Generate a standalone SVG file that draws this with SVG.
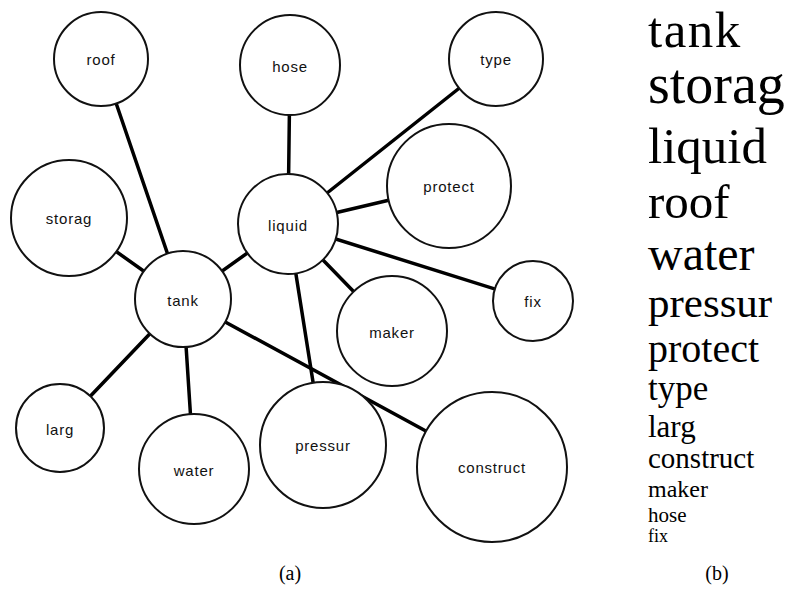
<svg xmlns="http://www.w3.org/2000/svg" width="793" height="590" viewBox="0 0 793 590">
<style>
.e{stroke:#000;stroke-width:3.5;stroke-linecap:round}
.n circle{fill:#fff;stroke:#111;stroke-width:2}
.n text{font-family:"Liberation Sans",Arial,sans-serif;font-size:15px;letter-spacing:0.8px;fill:#111;text-anchor:middle;dominant-baseline:central}
.w{font-family:"Liberation Serif","Times New Roman",serif;fill:#000}
.cap{font-family:"Liberation Serif","Times New Roman",serif;font-size:20px;fill:#000;text-anchor:middle}
</style>
<rect width="793" height="590" fill="#fff"/>
<g id="connectors">
<line class="e" x1="101" y1="59" x2="183" y2="299"/>
<line class="e" x1="69" y1="218" x2="183" y2="299"/>
<line class="e" x1="288" y1="224" x2="183" y2="299"/>
<line class="e" x1="60" y1="428" x2="183" y2="299"/>
<line class="e" x1="194" y1="469" x2="183" y2="299"/>
<line class="e" x1="183" y1="299" x2="492" y2="467"/>
<line class="e" x1="290" y1="65" x2="288" y2="224"/>
<line class="e" x1="288" y1="224" x2="496" y2="59"/>
<line class="e" x1="288" y1="224" x2="449" y2="186"/>
<line class="e" x1="288" y1="224" x2="533" y2="301"/>
<line class="e" x1="288" y1="224" x2="392" y2="331"/>
<line class="e" x1="288" y1="224" x2="323" y2="445"/>
</g>
<g id="roof" class="n"><circle cx="101" cy="59" r="47"/><text x="101" y="59">roof</text></g>
<g id="hose" class="n"><circle cx="290" cy="65" r="50"/><text x="290" y="66">hose</text></g>
<g id="type" class="n"><circle cx="496" cy="59" r="47"/><text x="496" y="59">type</text></g>
<g id="protect" class="n"><circle cx="449" cy="186" r="62"/><text x="449" y="186">protect</text></g>
<g id="storag" class="n"><circle cx="69" cy="218" r="58"/><text x="69" y="218">storag</text></g>
<g id="liquid" class="n"><circle cx="288" cy="224" r="50"/><text x="288" y="225">liquid</text></g>
<g id="tank" class="n"><circle cx="183" cy="299" r="48"/><text x="183" y="300">tank</text></g>
<g id="fix" class="n"><circle cx="533" cy="301" r="40"/><text x="533" y="301">fix</text></g>
<g id="maker" class="n"><circle cx="392" cy="331" r="55"/><text x="392" y="332">maker</text></g>
<g id="larg" class="n"><circle cx="60" cy="428" r="44"/><text x="60" y="429">larg</text></g>
<g id="water" class="n"><circle cx="194" cy="469" r="55"/><text x="194" y="470">water</text></g>
<g id="pressur" class="n"><circle cx="323" cy="445" r="63"/><text x="323" y="445">pressur</text></g>
<g id="construct" class="n"><circle cx="492" cy="467" r="75"/><text x="492" y="467">construct</text></g>
<text class="cap" x="290" y="580">(a)</text>
<g id="wordlist">
<text class="w" x="648" y="47" font-size="51" letter-spacing="1.5">tank</text>
<text class="w" x="648" y="103" font-size="56">storag</text>
<text class="w" x="648" y="163" font-size="51">liquid</text>
<text class="w" x="648" y="218" font-size="49">roof</text>
<text class="w" x="648" y="270" font-size="48">water</text>
<text class="w" x="648" y="317" font-size="43">pressur</text>
<text class="w" x="648" y="362" font-size="40">protect</text>
<text class="w" x="648" y="400" font-size="35">type</text>
<text class="w" x="648" y="437" font-size="31">larg</text>
<text class="w" x="648" y="468" font-size="29">construct</text>
<text class="w" x="648" y="497" font-size="24">maker</text>
<text class="w" x="648" y="522" font-size="21">hose</text>
<text class="w" x="648" y="542" font-size="18">fix</text>
</g>
<text class="cap" x="717" y="580">(b)</text>
</svg>
